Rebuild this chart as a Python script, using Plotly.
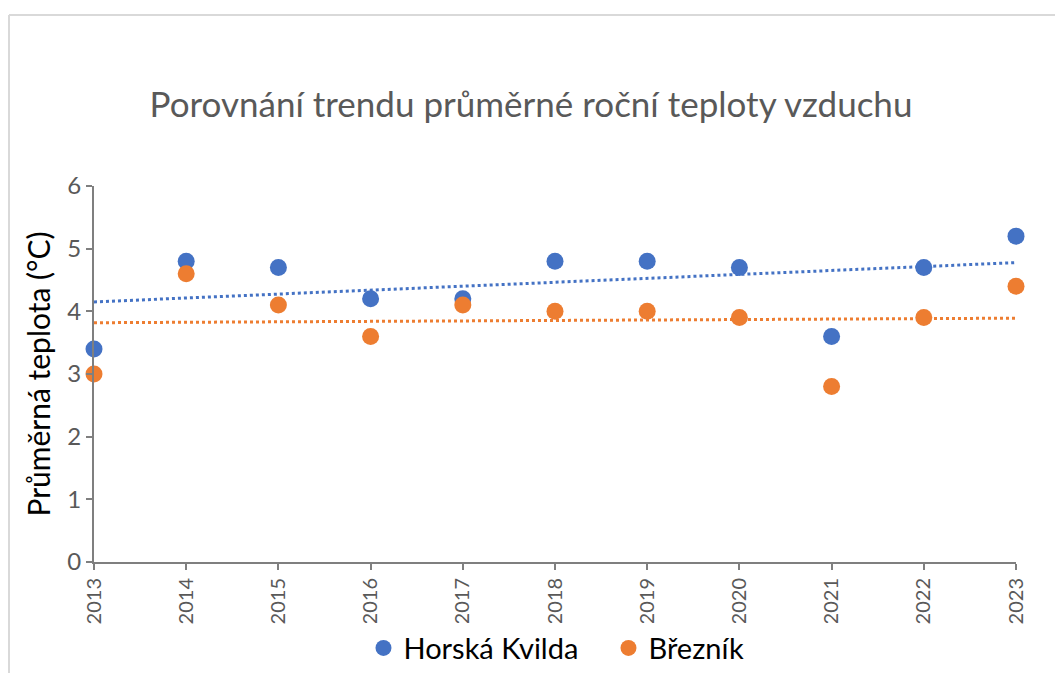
import numpy as np
import plotly.graph_objects as go

years = [2013, 2014, 2015, 2016, 2017, 2018, 2019, 2020, 2021, 2022, 2023]
horska_kvilda = [3.4, 4.8, 4.7, 4.2, 4.2, 4.8, 4.8, 4.7, 3.6, 4.7, 5.2]
breznik = [3.0, 4.6, 4.1, 3.6, 4.1, 4.0, 4.0, 3.9, 2.8, 3.9, 4.4]

blue = '#4472C4'
orange = '#ED7D31'


def trend(x, y):
    # linear trendline like Excel
    k, q = np.polyfit(x, y, 1)
    xs = [x[0], x[-1]]
    return xs, [k * v + q for v in xs]


fig = go.Figure()
for name, vals, col in [('Horská Kvilda', horska_kvilda, blue), ('Březník', breznik, orange)]:
    tx, ty = trend(years, vals)
    fig.add_trace(go.Scatter(x=tx, y=ty, mode='lines', showlegend=False, hoverinfo='skip',
                             line=dict(color=col, width=3, dash='dot')))
for name, vals, col in [('Horská Kvilda', horska_kvilda, blue), ('Březník', breznik, orange)]:
    fig.add_trace(go.Scatter(x=years, y=vals, mode='markers', name=name,
                             marker=dict(color=col, size=17, line=dict(width=0)),
                             cliponaxis=False))

# page body has an 8px margin, so the figure is shifted to compensate
fig.update_layout(
    width=1063, height=673,
    margin=dict(l=86, r=55, t=178, b=119, autoexpand=False),
    paper_bgcolor='white', plot_bgcolor='white',
    font=dict(family='Lato, Noto Sans, sans-serif', color='#595959'),
    title=dict(text='Porovnání trendu průměrné roční teploty vzduchu',
               x=0.492, xref='container', y=(673 - 97) / 673, yref='container',
               xanchor='center', yanchor='middle',
               font=dict(size=35, color='#595959')),
    legend=dict(orientation='h', x=0.558, xanchor='center', y=-0.229, yanchor='middle',
                font=dict(size=29, color='black'), itemwidth=30, entrywidth=200),
    showlegend=True,
)
fig.update_xaxes(range=[2013, 2023], dtick=1, tick0=2013, showgrid=False, zeroline=False,
                 showline=True, linecolor='#7f7f7f', linewidth=2,
                 ticks='outside', ticklen=6, tickcolor='#7f7f7f', tickwidth=2,
                 tickangle=-90, tickfont=dict(size=20, color='#595959'))
fig.update_yaxes(range=[0, 6], dtick=1, showgrid=False, zeroline=False,
                 showline=True, linecolor='#7f7f7f', linewidth=2,
                 ticks='outside', ticklen=6, tickcolor='#7f7f7f', tickwidth=2,
                 tickfont=dict(size=24, color='#595959'),
                 title=dict(text='Průměrná teplota (°C)', font=dict(size=30, color='black'),
                            standoff=8))

# chart area border
bx = (1 - 86) / 922
by = (554 - 7) / 376
fig.add_shape(type='line', xref='paper', yref='paper', x0=bx, x1=1.1, y0=by, y1=by,
              line=dict(color='#d9d9d9', width=2))
fig.add_shape(type='line', xref='paper', yref='paper', x0=bx, x1=bx, y0=by, y1=-0.4,
              line=dict(color='#d9d9d9', width=2))

fig.write_html("out.html")
